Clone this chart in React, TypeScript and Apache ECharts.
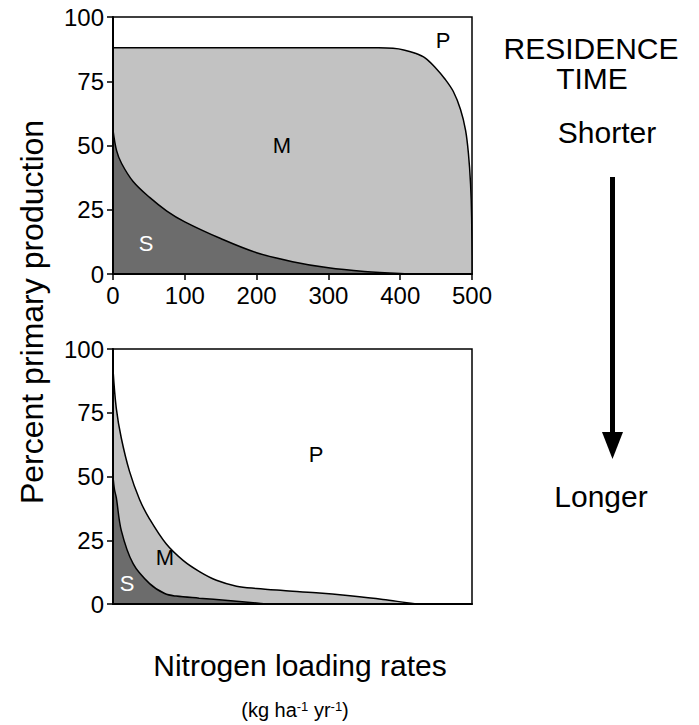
import React, { useEffect, useRef } from "react";
import * as echarts from "echarts";

// Nitrogen loading (kg ha-1 yr-1) and percent of primary production
// Upper panel: shorter residence time
const TOP_MIXED_X = [0, 100, 200, 300, 370, 390, 405, 420, 435, 450, 462, 474, 484, 491, 495, 498, 499.5, 500];
const TOP_MIXED_Y = [88, 88, 88, 88, 88, 87.8, 87.2, 86, 84, 80, 76, 71, 64, 56, 47, 35, 22, 0];
const TOP_SEAGRASS_X = [0, 5, 12, 28, 51, 75, 100, 150, 200, 250, 300, 350, 400, 430];
const TOP_SEAGRASS_Y = [56, 48, 43, 36, 29.8, 24.5, 20.3, 13.8, 8.3, 4.8, 2.4, 1, 0.2, 0];

// Lower panel: longer residence time
const BOTTOM_MIXED_X = [0, 4.6, 11.6, 23, 37, 51, 74, 98, 121, 144, 172, 200, 237, 283, 330, 376, 409, 423];
const BOTTOM_MIXED_Y = [92, 76.7, 65, 52, 41, 33.3, 23.6, 17, 12.6, 9.3, 7, 6.1, 5.3, 4.4, 3.2, 1.8, 0.5, 0];
const BOTTOM_SEAGRASS_X = [0, 2, 4.6, 11.6, 28, 51, 72, 88, 120, 160, 200, 214];
const BOTTOM_SEAGRASS_Y = [50, 45, 41.7, 28.8, 15.8, 8, 4.1, 3.1, 2.3, 1.4, 0.4, 0];

const X_TICKS = [0, 100, 200, 300, 400, 500];
const Y_TICKS = [0, 25, 50, 75, 100];

const FONT = "'Liberation Sans', Arial, Helvetica, sans-serif";
const LIGHT = "#c2c2c2";
const DARK = "#6c6c6c";

const pairs = (xs: number[], ys: number[]) => xs.map((x, i) => [x, ys[i]]);

const areaSeries = (xs: number[], ys: number[], color: string, axis: number) => ({
  type: "line",
  xAxisIndex: axis,
  yAxisIndex: axis,
  data: pairs(xs, ys),
  smooth: 0.35,
  showSymbol: false,
  symbol: "none",
  lineStyle: { color: "#000", width: 1.5 },
  areaStyle: { color, opacity: 1, origin: "start" },
  silent: true,
  z: 2,
});

const yAxis = (gridIndex: number) => ({
  type: "value",
  gridIndex,
  min: Y_TICKS[0],
  max: Y_TICKS[Y_TICKS.length - 1],
  interval: 25,
  splitLine: { show: false },
  axisLine: { show: true, lineStyle: { color: "#000", width: 2 } },
  axisTick: { show: true, inside: false, length: 6, lineStyle: { color: "#000", width: 1.5 } },
  axisLabel: { color: "#000", fontSize: 24, fontFamily: FONT, margin: 9 },
  z: 5,
});

export default function App() {
  const ref = useRef<HTMLDivElement>(null);

  useEffect(() => {
    if (!ref.current) return;
    const chart = echarts.init(ref.current, undefined, { renderer: "svg" });

    const panelLabel = (text: string, x: number, y: number, fill = "#000") => ({
      type: "text",
      x,
      y,
      z: 10,
      style: { text, fill, fontSize: 22, fontFamily: FONT, align: "center", verticalAlign: "middle" },
    });
    const sideText = (text: string, x: number, y: number) => ({
      type: "text",
      x,
      y,
      style: { text, fill: "#000", fontSize: 30, fontFamily: FONT, align: "center", verticalAlign: "middle" },
    });

    chart.setOption({
      animation: false,
      backgroundColor: "#fff",
      grid: [
        { left: 113, top: 17, width: 359, height: 257, show: true, borderColor: "#000", borderWidth: 1.5, backgroundColor: "transparent" },
        { left: 113, top: 349, width: 359, height: 255, show: true, borderColor: "#000", borderWidth: 1.5, backgroundColor: "transparent" },
      ],
      xAxis: [
        {
          type: "value",
          gridIndex: 0,
          min: X_TICKS[0],
          max: X_TICKS[X_TICKS.length - 1],
          interval: 100,
          splitLine: { show: false },
          axisLine: { show: true, lineStyle: { color: "#000", width: 2 } },
          axisTick: { show: true, inside: false, length: 6, lineStyle: { color: "#000", width: 1.5 } },
          axisLabel: { color: "#000", fontSize: 24, fontFamily: FONT, margin: 9 },
          z: 5,
        },
        {
          type: "value",
          gridIndex: 1,
          min: X_TICKS[0],
          max: X_TICKS[X_TICKS.length - 1],
          interval: 100,
          splitLine: { show: false },
          axisLine: { show: true, lineStyle: { color: "#000", width: 2 } },
          axisTick: { show: false },
          axisLabel: { show: false },
          z: 5,
        },
      ],
      yAxis: [yAxis(0), yAxis(1)],
      series: [
        areaSeries(TOP_MIXED_X, TOP_MIXED_Y, LIGHT, 0),
        areaSeries(TOP_SEAGRASS_X, TOP_SEAGRASS_Y, DARK, 0),
        areaSeries(BOTTOM_MIXED_X, BOTTOM_MIXED_Y, LIGHT, 1),
        areaSeries(BOTTOM_SEAGRASS_X, BOTTOM_SEAGRASS_Y, DARK, 1),
      ],
      graphic: [
        panelLabel("P", 443, 40),
        panelLabel("M", 282, 145),
        panelLabel("S", 146, 243, "#fff"),
        panelLabel("P", 316, 454),
        panelLabel("M", 165, 557),
        panelLabel("S", 127, 583, "#fff"),
        sideText("RESIDENCE", 591, 48),
        sideText("TIME", 592, 78),
        sideText("Shorter", 607, 132),
        sideText("Longer", 601, 496),
        { type: "rect", shape: { x: 610, y: 177, width: 5, height: 258 }, style: { fill: "#000" } },
        { type: "polygon", shape: { points: [[602, 432], [623, 432], [612.5, 459]] }, style: { fill: "#000" } },
        {
          type: "text",
          x: 32,
          y: 312,
          rotation: Math.PI / 2,
          style: { text: "Percent primary production", fill: "#000", fontSize: 32, fontFamily: FONT, align: "center", verticalAlign: "middle" },
        },
        sideText("Nitrogen loading rates", 300, 665),
        {
          type: "text",
          x: 295,
          y: 710,
          style: {
            text: "(kg ha{sup|-1} yr{sup|-1})",
            fill: "#000",
            fontSize: 20,
            fontFamily: FONT,
            align: "center",
            verticalAlign: "middle",
            rich: {
              sup: { fontSize: 13, fontFamily: FONT, fill: "#000", verticalAlign: "top", lineHeight: 20 },
            },
          },
        },
      ],
    });

    return () => chart.dispose();
  }, []);

  return (
    <div
      ref={ref}
      style={{ position: "fixed", left: 0, top: 0, width: 699, height: 725, background: "#fff" }}
    />
  );
}
